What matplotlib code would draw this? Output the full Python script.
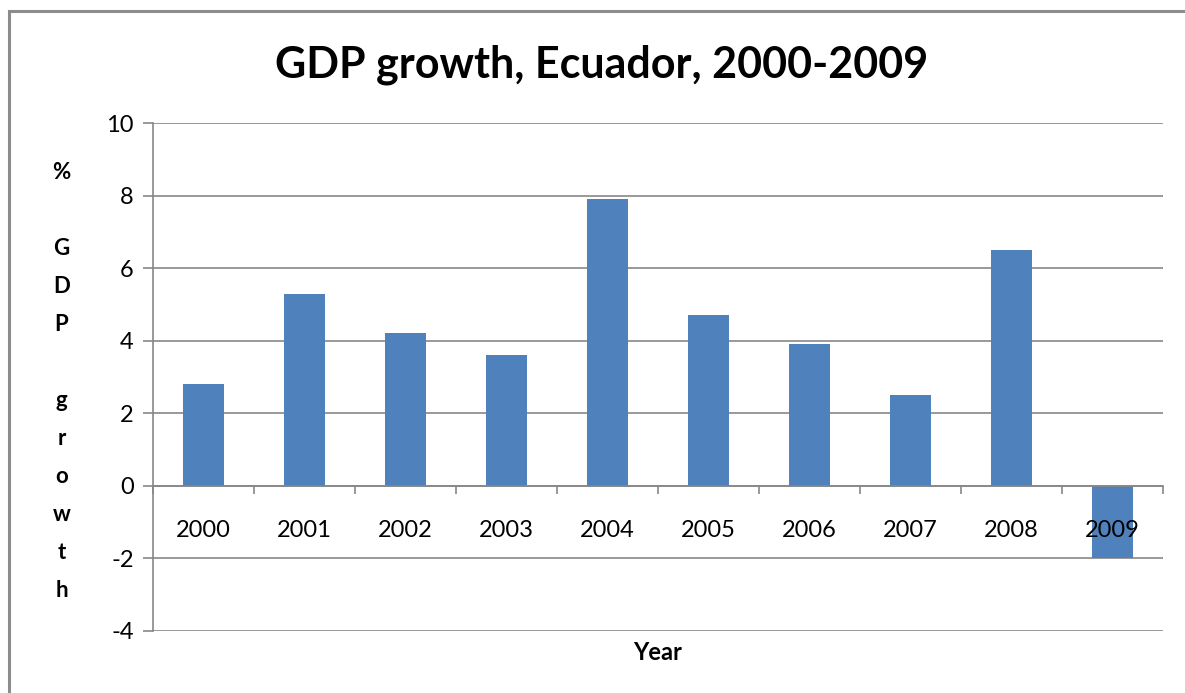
import matplotlib.pyplot as plt
from matplotlib.patches import Rectangle
import numpy as np

plt.rcParams['font.family'] = ['Lato', 'DejaVu Sans']
plt.rcParams['axes.unicode_minus'] = False

years = ['2000', '2001', '2002', '2003', '2004', '2005', '2006', '2007', '2008', '2009']
growth = [2.8, 5.3, 4.2, 3.6, 7.9, 4.7, 3.9, 2.5, 6.5, -2.0]
yticks = [-4, -2, 0, 2, 4, 6, 8, 10]

grey = '#878787'
fig = plt.figure(figsize=(11.85, 6.93), dpi=100)
ax = fig.add_axes([0.1291, 0.0895, 0.8523, 0.733])

x = np.arange(len(years))
ax.bar(x, growth, width=0.4, color='#4F81BD', zorder=3)

ax.set_xlim(-0.5, len(years) - 0.5)
ax.set_ylim(-4, 10)
ax.set_yticks(yticks)
ax.yaxis.grid(True, color=grey, linewidth=1.2, zorder=0)
ax.tick_params(axis='y', length=7, width=1.2, color=grey, labelsize=17, pad=7)

# x axis crosses at zero, ticks at category boundaries
ax.spines['bottom'].set_position(('data', 0))
ax.spines['bottom'].set_color(grey)
ax.spines['bottom'].set_linewidth(1.2)
ax.spines['bottom'].set_zorder(4)
ax.set_xticks(np.arange(-0.5, len(years), 1.0))
ax.set_xticklabels([])
ax.tick_params(axis='x', length=6, width=1.2, color=grey, direction='out')
ax.spines['left'].set_color(grey)
ax.spines['left'].set_linewidth(1.2)
ax.spines['top'].set_visible(False)
ax.spines['right'].set_visible(False)

for i, yr in enumerate(years):
    ax.text(i, -1.24, yr, ha='center', va='center', fontsize=17, zorder=5)

fig.text(0.508, 0.906, 'GDP growth, Ecuador, 2000-2009', ha='center', va='center',
         fontsize=31, fontweight='bold')
fig.text(0.052, 0.4495, '%\n\nG\nD\nP\n\ng\nr\no\nw\nt\nh', ha='center', va='center',
         fontsize=16, fontweight='bold', linespacing=2.0)
fig.text(0.555, 0.058, 'Year', ha='center', va='center', fontsize=17, fontweight='bold')

fig.patches.append(Rectangle((9 / 1185, -0.05), 1.2, 1 - 11 / 693 + 0.05,
                             transform=fig.transFigure, fill=False,
                             edgecolor='#8c8c8c', linewidth=2.2))

fig.savefig('out.png', dpi=100)
